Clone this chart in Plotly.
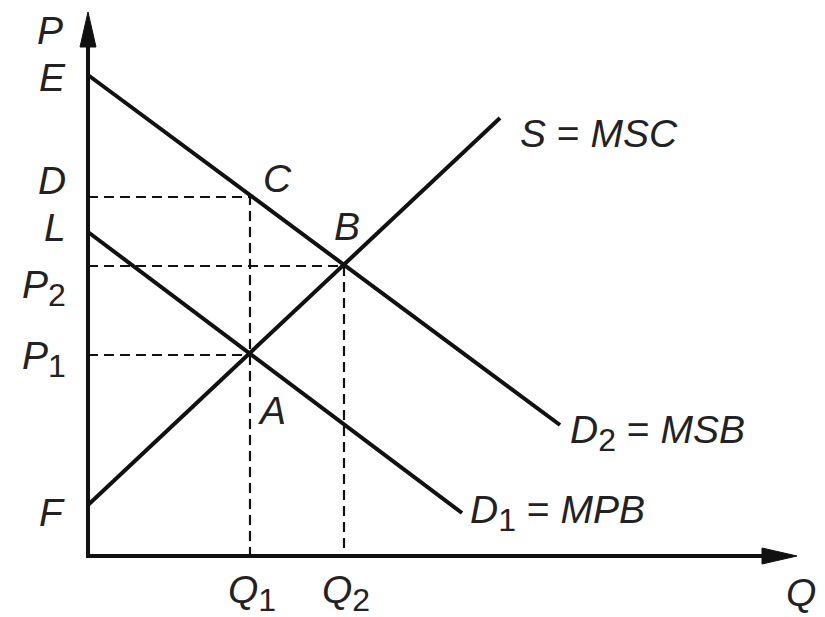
import plotly.graph_objects as go

# curve end points (Q, P)
q_msb = [0, 472]
p_msb = [481, 131]
q_msc = [0, 412]
p_msc = [51, 438]
q_mpb = [0, 374]
p_mpb = [324, 43]

# key quantities and prices
q1, q2 = 162, 256
p1, p2, p_d = 201, 290, 359
q_max, p_max = 709, 544

ink = '#111111'
font = dict(family='Liberation Sans, Arial, sans-serif', size=39, color='#222222')


def sub(n):
    # slightly larger subscript than plotly's default 70%
    return f'<sub><span style="font-size:32px">{n}</span></sub>'


fig = go.Figure()

# dashed guide lines
guides = [
    ([0, q1, q1], [p_d, p_d, 0]),
    ([0, q2, q2], [p2, p2, 0]),
    ([0, q1], [p1, p1]),
]
for gx, gy in guides:
    fig.add_trace(go.Scatter(x=gx, y=gy, mode='lines',
                             line=dict(color=ink, width=2.2, dash='10px,6px'),
                             hoverinfo='skip', showlegend=False))

# supply and demand curves
for cx, cy in [(q_msb, p_msb), (q_msc, p_msc), (q_mpb, p_mpb)]:
    fig.add_trace(go.Scatter(x=cx, y=cy, mode='lines',
                             line=dict(color=ink, width=4),
                             hoverinfo='skip', showlegend=False))

# axes with arrow heads
head_len, head_half = 35, 8
fig.add_trace(go.Scatter(x=[0, 0, q_max - 20], y=[p_max - 20, 0, 0], mode='lines',
                         line=dict(color=ink, width=4),
                         hoverinfo='skip', showlegend=False))
fig.add_trace(go.Scatter(x=[-head_half, 0, head_half, -head_half],
                         y=[p_max - head_len, p_max, p_max - head_len, p_max - head_len],
                         mode='lines', fill='toself', fillcolor=ink,
                         line=dict(color=ink, width=1),
                         hoverinfo='skip', showlegend=False))
fig.add_trace(go.Scatter(x=[q_max - head_len, q_max, q_max - head_len, q_max - head_len],
                         y=[-head_half, 0, head_half, -head_half],
                         mode='lines', fill='toself', fillcolor=ink,
                         line=dict(color=ink, width=1),
                         hoverinfo='skip', showlegend=False))

# labels
labels = [
    ('<i>P</i>', -38, 526, 'center'),
    ('<i>E</i>', -36, 479, 'center'),
    ('<i>D</i>', -36, 376, 'center'),
    ('<i>L</i>', -33, 329, 'center'),
    ('<i>P</i>' + sub(2), -44, 268, 'center'),
    ('<i>P</i>' + sub(1), -44, 197, 'center'),
    ('<i>F</i>', -36, 44, 'center'),
    ('<i>C</i>', 189, 378, 'center'),
    ('<i>B</i>', 259, 330, 'center'),
    ('<i>A</i>', 184, 146, 'center'),
    ('<i>Q</i>' + sub(1), q1 + 2, -37, 'center'),
    ('<i>Q</i>' + sub(2), q2 + 2, -37, 'center'),
    ('<i>Q</i>', q_max + 4, -36, 'center'),
    ('<i>S</i> = <i>MSC</i>', 430, 423, 'left'),
    ('<i>D</i>' + sub(2) + ' = <i>MSB</i>', 480, 123, 'left'),
    ('<i>D</i>' + sub(1) + ' = <i>MPB</i>', 380, 43, 'left'),
]
for text, lx, ly, anchor in labels:
    fig.add_annotation(x=lx, y=ly, text=text, showarrow=False,
                       xanchor=anchor, yanchor='middle', font=font)

# page body adds an 8px offset, so the figure is 8px smaller each way
fig.update_layout(
    width=817,
    height=609,
    margin=dict(l=0, r=0, t=0, b=0),
    plot_bgcolor='white',
    paper_bgcolor='white',
    xaxis=dict(range=[-80, 737], visible=False),
    yaxis=dict(range=[-61, 548], visible=False),
)

fig.write_html('out.html')
